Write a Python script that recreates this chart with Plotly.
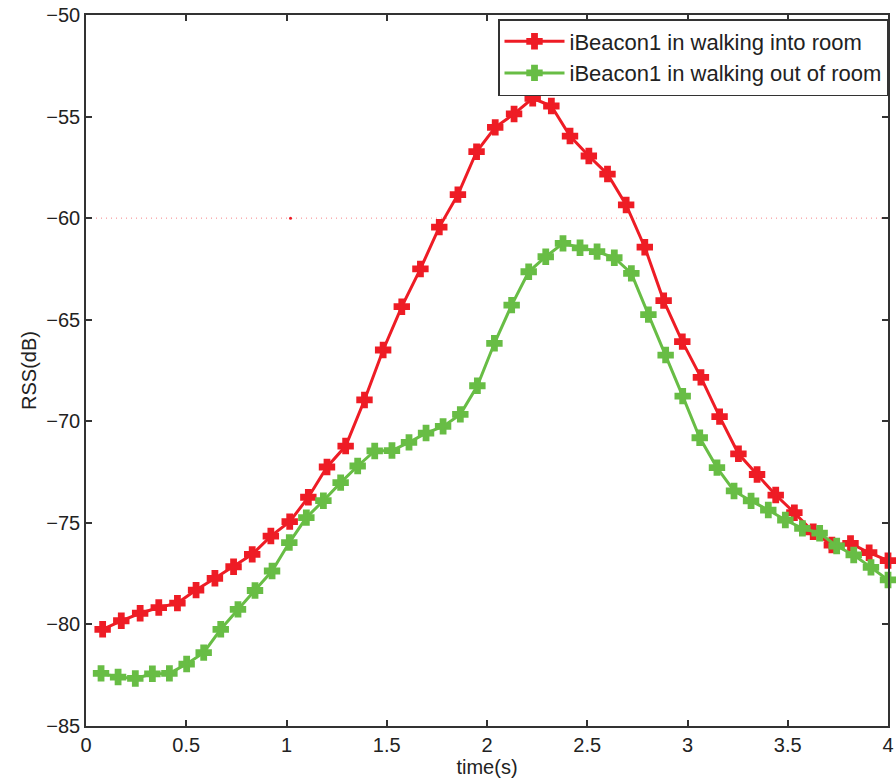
import plotly.graph_objects as go

# ---- data ----
time_in = [0.083, 0.176, 0.270, 0.363, 0.456, 0.549, 0.643, 0.736, 0.829, 0.922,
           1.016, 1.109, 1.202, 1.295, 1.389, 1.482, 1.575, 1.668, 1.762, 1.855,
           1.948, 2.041, 2.135, 2.228, 2.321, 2.414, 2.508, 2.601, 2.694, 2.787,
           2.881, 2.974, 3.067, 3.160, 3.254, 3.347, 3.440, 3.533, 3.627, 3.720,
           3.813, 3.906, 4.000]
rss_in = [-80.24, -79.82, -79.45, -79.17, -78.95, -78.31, -77.73, -77.16, -76.55, -75.65,
          -74.94, -73.74, -72.25, -71.22, -68.95, -66.49, -64.36, -62.50, -60.44, -58.84,
          -56.73, -55.53, -54.87, -54.10, -54.48, -55.96, -56.94, -57.83, -59.35, -61.43,
          -64.06, -66.08, -67.84, -69.77, -71.60, -72.62, -73.63, -74.50, -75.44, -76.09,
          -76.01, -76.47, -76.86]

time_out = [0.075, 0.160, 0.246, 0.331, 0.416, 0.502, 0.587, 0.672, 0.758, 0.843,
            0.928, 1.014, 1.099, 1.184, 1.270, 1.355, 1.440, 1.526, 1.611, 1.696,
            1.781, 1.867, 1.952, 2.037, 2.123, 2.208, 2.293, 2.379, 2.464, 2.549,
            2.635, 2.720, 2.805, 2.891, 2.976, 3.061, 3.147, 3.232, 3.317, 3.403,
            3.488, 3.573, 3.659, 3.744, 3.829, 3.915, 4.000]
rss_out = [-82.41, -82.59, -82.66, -82.43, -82.41, -81.95, -81.39, -80.24, -79.26, -78.33,
           -77.37, -75.97, -74.74, -73.91, -73.02, -72.20, -71.46, -71.44, -71.04, -70.58,
           -70.25, -69.66, -68.25, -66.16, -64.28, -62.64, -61.90, -61.24, -61.46, -61.65,
           -61.95, -62.72, -64.75, -66.74, -68.76, -70.81, -72.28, -73.43, -73.92, -74.37,
           -74.86, -75.27, -75.51, -76.14, -76.58, -77.19, -77.81]

threshold = -60
threshold_dot_x = [1.02]
threshold_dot_y = [-60]

x_ticks = [0, 0.5, 1, 1.5, 2, 2.5, 3, 3.5, 4]
x_ticklabels = ["0", "0.5", "1", "1.5", "2", "2.5", "3", "3.5", "4"]
y_ticks = [-85, -80, -75, -70, -65, -60, -55, -50]

RED = "#ee1c25"
GREEN = "#68bd45"
FONT = "Liberation Sans, Arial, sans-serif"

fig = go.Figure()

fig.add_trace(go.Scatter(
    x=[0, 4], y=[threshold, threshold], mode="lines",
    line=dict(color="rgba(238,28,37,0.55)", width=1, dash="1px,4px"),
    showlegend=False, hoverinfo="skip"))
fig.add_trace(go.Scatter(
    x=threshold_dot_x, y=threshold_dot_y, mode="markers",
    marker=dict(color=RED, size=3), showlegend=False, hoverinfo="skip"))

fig.add_trace(go.Scatter(
    x=time_in, y=rss_in, mode="lines+markers",
    name="iBeacon1 in walking into room",
    line=dict(color=RED, width=3),
    marker=dict(symbol="cross", size=12, color=RED, line=dict(color=RED, width=2)),
    cliponaxis=False))
fig.add_trace(go.Scatter(
    x=time_out, y=rss_out, mode="lines+markers",
    name="iBeacon1 in walking out of room",
    line=dict(color=GREEN, width=3),
    marker=dict(symbol="cross", size=12, color=GREEN, line=dict(color=GREEN, width=2)),
    cliponaxis=False))

axis_common = dict(
    showgrid=False, zeroline=False, showline=True, linecolor="#333333", linewidth=1.5,
    mirror="ticks", ticks="inside", ticklen=6, tickwidth=1.5, tickcolor="#333333",
    tickfont=dict(family=FONT, size=20, color="#222222"), automargin=False,
)

fig.update_layout(
    width=896, height=783,
    margin=dict(l=86, r=8, t=15, b=57),
    plot_bgcolor="white", paper_bgcolor="white",
    font=dict(family=FONT, size=20, color="#222222"),
    xaxis=dict(range=[0, 4], tickvals=x_ticks, ticktext=x_ticklabels,
               title=dict(text="time(s)", font=dict(family=FONT, size=20), standoff=2),
               **axis_common),
    yaxis=dict(range=[-85, -50], tickvals=y_ticks,
               title=dict(text="RSS(dB)", font=dict(family=FONT, size=20), standoff=4),
               **axis_common),
    legend=dict(x=1, y=1 - 4 / 711, xanchor="right", yanchor="top",
                bgcolor="white", bordercolor="#333333", borderwidth=1.5,
                font=dict(family=FONT, size=22, color="#222222"),
                itemwidth=60, tracegroupgap=0),
    showlegend=True,
)

fig.write_html("out.html")
